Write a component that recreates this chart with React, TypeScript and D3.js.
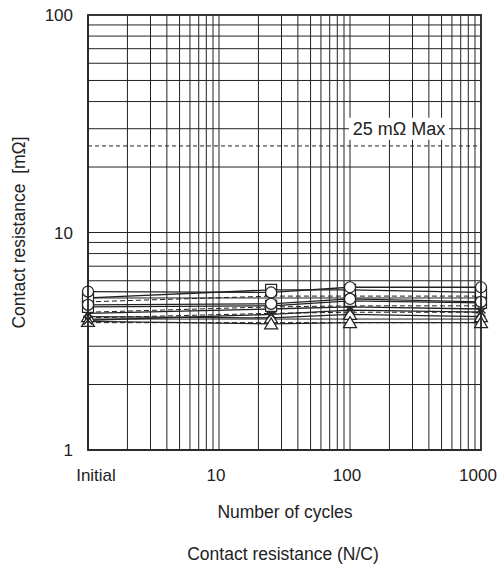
import { useEffect, useRef } from "react";
import * as d3 from "d3";

// cycles at which measurements were taken (1 = "Initial")
const cycles = [1, 25, 100, 1000];

const xTickValues = [1, 10, 100, 1000];
const xTickLabels = ["Initial", "10", "100", "1000"];
const yTickValues = [1, 10, 100];
const yTickLabels = ["1", "10", "100"];

const limitValue = 25;
const limitLabel = "25 mΩ Max";

// contact resistance samples [mΩ]
const circleA = [5.35, 5.3, 5.6, 5.6];
const circleB = [4.65, 4.7, 4.95, 4.8];
const squareA = [5.0, 5.45, 5.45, 5.3];
const squareB = [4.55, 4.6, 4.85, 4.75];
const crossA = [4.25, 4.45, 4.55, 4.45];
const crossB = [3.95, 4.2, 4.4, 4.3];
const triangleA = [4.1, 4.05, 4.2, 4.1];
const triangleB = [3.9, 3.8, 3.85, 3.85];
const dashA = [4.8, 5.1, 5.1, 5.1];
const dashB = [4.3, 4.55, 4.6, 4.6];
const dashC = [4.05, 4.25, 4.3, 4.3];
const dashD = [3.85, 3.85, 3.85, 3.85];

interface Series {
  values: number[];
  marker: "circle" | "square" | "cross" | "triangle" | "none";
  dashed: boolean;
}

const series: Series[] = [
  { values: dashA, marker: "none", dashed: true },
  { values: dashB, marker: "none", dashed: true },
  { values: dashC, marker: "none", dashed: true },
  { values: dashD, marker: "none", dashed: true },
  { values: triangleA, marker: "triangle", dashed: false },
  { values: triangleB, marker: "triangle", dashed: false },
  { values: crossA, marker: "cross", dashed: false },
  { values: crossB, marker: "cross", dashed: false },
  { values: squareA, marker: "square", dashed: false },
  { values: squareB, marker: "square", dashed: false },
  { values: circleA, marker: "circle", dashed: false },
  { values: circleB, marker: "circle", dashed: false },
];

const App = () => {
  const svgRef = useRef<SVGSVGElement | null>(null);

  useEffect(() => {
    if (!svgRef.current) return;
    const svg = d3.select(svgRef.current);
    svg.selectAll("*").remove();

    const left = 88, right = 481, top = 15, bottom = 450;
    const font = "'Liberation Sans', Arial, sans-serif";
    const ink = "#222";

    const x = d3.scaleLog().domain([1, 1000]).range([left, right]);
    const y = d3.scaleLog().domain([1, 100]).range([bottom, top]);

    // grid lines, every 1..9 of each decade
    const xGrid: number[] = [];
    for (let d = 1; d < 1000; d *= 10) for (let k = 1; k < 10; k++) xGrid.push(d * k);
    const yGrid: number[] = [];
    for (let d = 1; d < 100; d *= 10) for (let k = 1; k < 10; k++) yGrid.push(d * k);

    const grid = svg.append("g");
    grid
      .selectAll("line.v")
      .data(xGrid)
      .enter()
      .append("line")
      .attr("x1", (d) => x(d))
      .attr("x2", (d) => x(d))
      .attr("y1", top)
      .attr("y2", bottom)
      .attr("stroke", ink)
      .attr("stroke-width", 1);
    grid
      .selectAll("line.h")
      .data(yGrid)
      .enter()
      .append("line")
      .attr("x1", left)
      .attr("x2", right)
      .attr("y1", (d) => y(d))
      .attr("y2", (d) => y(d))
      .attr("stroke", ink)
      .attr("stroke-width", 1);

    // limit line
    svg
      .append("line")
      .attr("x1", left)
      .attr("x2", right)
      .attr("y1", y(limitValue))
      .attr("y2", y(limitValue))
      .attr("stroke", ink)
      .attr("stroke-dasharray", "4,3");

    const labelY = y(30);
    svg
      .append("rect")
      .attr("x", 349)
      .attr("y", labelY - 11)
      .attr("width", 100)
      .attr("height", 22)
      .attr("fill", "#fff");
    svg
      .append("text")
      .attr("x", 399)
      .attr("y", labelY + 6.5)
      .attr("text-anchor", "middle")
      .attr("font-family", font)
      .attr("font-size", 18)
      .attr("fill", ink)
      .text(limitLabel);

    // series lines
    const line = d3
      .line<number>()
      .x((_, i) => x(cycles[i]))
      .y((d) => y(d));

    svg
      .selectAll("path.series")
      .data(series)
      .enter()
      .append("path")
      .attr("d", (s) => line(s.values))
      .attr("fill", "none")
      .attr("stroke", ink)
      .attr("stroke-width", (s) => (s.dashed ? 1 : 1.3))
      .attr("stroke-dasharray", (s) => (s.dashed ? "5,3" : null));

    // markers
    series.forEach((s) => {
      if (s.marker === "none") return;
      const g = svg.append("g");
      s.values.forEach((v, i) => {
        const cx = x(cycles[i]);
        const cy = y(v);
        if (s.marker === "circle") {
          g.append("circle").attr("cx", cx).attr("cy", cy).attr("r", 5.5)
            .attr("fill", "#fff").attr("stroke", ink).attr("stroke-width", 1.2);
        } else if (s.marker === "square") {
          g.append("rect").attr("x", cx - 5.5).attr("y", cy - 5.5).attr("width", 11).attr("height", 11)
            .attr("fill", "#fff").attr("stroke", ink).attr("stroke-width", 1.2);
        } else if (s.marker === "triangle") {
          g.append("path")
            .attr("d", `M${cx},${cy - 6}L${cx + 6.5},${cy + 5}L${cx - 6.5},${cy + 5}Z`)
            .attr("fill", "#fff").attr("stroke", ink).attr("stroke-width", 1.2);
        } else {
          g.append("path")
            .attr("d", `M${cx - 4.5},${cy - 4.5}L${cx + 4.5},${cy + 4.5}M${cx + 4.5},${cy - 4.5}L${cx - 4.5},${cy + 4.5}`)
            .attr("stroke", ink).attr("stroke-width", 1.4);
        }
      });
    });

    // frame
    svg
      .append("rect")
      .attr("x", left)
      .attr("y", top)
      .attr("width", right - left)
      .attr("height", bottom - top)
      .attr("fill", "none")
      .attr("stroke", ink)
      .attr("stroke-width", 1.8);

    // tick labels
    svg
      .selectAll("text.xt")
      .data(xTickValues)
      .enter()
      .append("text")
      .attr("x", (d, i) => (i === 0 ? x(d) + 8 : i === 3 ? x(d) - 3 : x(d) - 3))
      .attr("y", 481)
      .attr("text-anchor", "middle")
      .attr("font-family", font)
      .attr("font-size", 17)
      .attr("fill", ink)
      .text((_, i) => xTickLabels[i]);

    svg
      .selectAll("text.yt")
      .data(yTickValues)
      .enter()
      .append("text")
      .attr("x", 73)
      .attr("y", (d) => y(d) + 6)
      .attr("text-anchor", "end")
      .attr("font-family", font)
      .attr("font-size", 17)
      .attr("fill", ink)
      .text((_, i) => yTickLabels[i]);

    // axis titles
    svg
      .append("text")
      .attr("x", 285)
      .attr("y", 518)
      .attr("text-anchor", "middle")
      .attr("font-family", font)
      .attr("font-size", 17.5)
      .attr("fill", ink)
      .text("Number of cycles");

    svg
      .append("text")
      .attr("transform", `translate(25,${(top + bottom) / 2}) rotate(-90)`)
      .attr("text-anchor", "middle")
      .attr("font-family", font)
      .attr("font-size", 17.5)
      .attr("fill", ink)
      .attr("xml:space", "preserve")
      .text("Contact resistance  [mΩ]");

    svg
      .append("text")
      .attr("x", 283)
      .attr("y", 560)
      .attr("text-anchor", "middle")
      .attr("font-family", font)
      .attr("font-size", 17.5)
      .attr("fill", ink)
      .text("Contact resistance (N/C)");
  }, []);

  return (
    <svg
      ref={svgRef}
      width={499}
      height={572}
      style={{ position: "absolute", left: 0, top: 0, background: "#fff" }}
    ></svg>
  );
};

export default App;
